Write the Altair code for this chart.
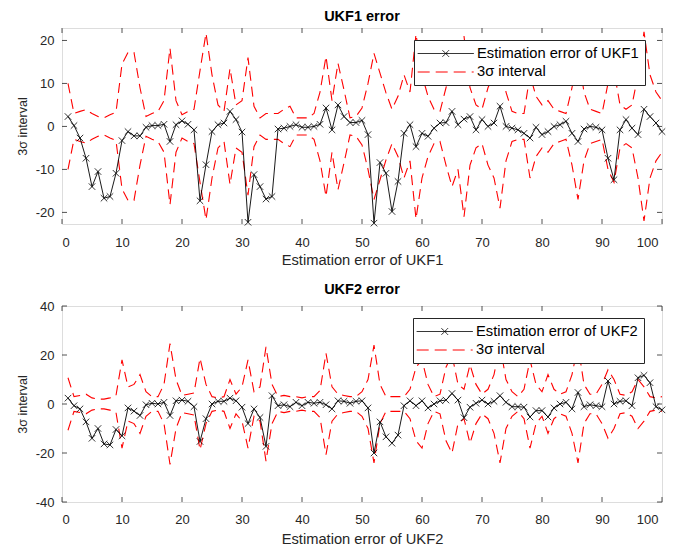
import altair as alt
import pandas as pd

t = list(range(1, 101))

err1 = [2.3, 0.2, -2.7, -7.4, -14, -10.5, -16.7, -16.3, -10.9, -3.3,
        -1.2, -2.2, -2.2, -0.2, 0.2, 0.2, 0.5, -3.5, 0.4, 1.3,
        0.5, -0.8, -17.3, -8.9, -1.2, 0.4, 0.8, 3.5, 1.6, -1.3,
        -22.3, -11.2, -14, -16.9, -16.3, -0.6, -0.4, 0, 0.4, -0.2,
        -0.2, 0, 0.5, 4.3, -0.8, 5, 2.3, 0.9, 0.9, 1.4,
        -1.9, -22.5, -8.4, -10.9, -19.8, -12.8, -1.6, 0.4, -4.7, -1.6,
        -2.3, -0.4, 0.8, 0.9, 3.5, 0.4, 1.7, 2.3, -0.8, 1.6,
        0, 0.8, 4.7, 0, -0.4, -0.8, -1.6, -2.7, -0.2, -1.9,
        -1.2, 0, 0.4, 1.2, -1.6, -3.5, -0.6, 0, -0.2, -0.8,
        -7.4, -12.4, -0.8, 1.6, -0.4, -1.9, 4.0, 2.3, 0.8, -1.2]

sig1 = [10, 3, 3.5, 3.9, 3, 2.3, 2, 2.7, 3.3, 14.5,
        17.2, 17.2, 9, 2.3, 3, 3.5, 6, 18.2, 6, 2.7,
        3.5, 4, 13, 21.7, 12, 5, 3.5, 13.5, 5, 6,
        16, 4.7, 2, 3, 3, 3, 4, 4.7, 2, 2,
        2, 3, 8, 16.3, 6, 14.7, 8.5, 2, 2.3, 4.3,
        10, 17, 12.4, 7.8, 4, 7, 12, 8, 21.5, 12,
        7, 4, 3.5, 9, 14, 10, 21, 9, 5, 4,
        9, 12, 19, 8, 3.5, 3, 3, 12, 7, 5,
        6, 4, 3.5, 3, 9, 17, 8, 4, 3.5, 3,
        10, 13, 5, 4, 5, 12, 22, 12, 8, 6]

err2 = [2.4, -0.7, -2, -7.3, -14, -10, -16.3, -16.7, -10.4, -13,
        -1.6, -2.9, -4.7, -0.3, 0.3, 0, 0.7, -4.7, 1.3, 1.6,
        1.1, -1.1, -15.3, -6, 0, 1.1, 1.1, 2.4, 1.3, -1.3,
        -8, -2, -5.5, -17.3, 3.4, -0.7, -0.3, -1.1, 0.7, -0.7,
        0.7, 0.3, 0.7, -0.3, -2, 1.3, 1.1, 0.3, 1.1, 1.3,
        -1.6, -20, -7.3, -13.4, -16, -12.7, -0.7, 1.3, -0.7, 1.3,
        -1.6, 0, 1.3, 1.6, 4.3, 1.6, -5.6, -1.3, 0.3, 1.6,
        0, 1.1, 3.4, 0.7, -1.1, -1.1, -1.3, -5.3, -2.7, -2.7,
        -5.3, -1.6, 0, 0.7, -2, 4.7, -1.1, -0.3, -0.7, -1.1,
        9.4, 0, 1.1, 1.3, -0.7, 10.7, 11.7, 8.7, -1.1, -2.4]

sig2 = [10.7, 3, 3.5, 4, 2.5, 2, 2, 2.5, 3.5, 18,
        7, 8, 12, 5, 3, 3, 8, 24.7, 10, 3.5,
        4, 4.5, 18.7, 8, 3, 2.5, 3, 10, 4, 7,
        18, 5, 7, 23.3, 8, 3, 3.5, 3, 3, 2.5,
        3, 3, 5.5, 20.7, 7, 4, 3.5, 3, 3, 5,
        10, 24, 8, 3, 3, 3, 3, 6, 15, 18,
        8, 3, 4, 15, 20, 8, 6, 16, 8, 4,
        6, 12, 24, 10, 5, 3, 6, 18, 8, 5,
        12, 6, 4, 5, 12, 24, 8, 4, 4, 8,
        14, 10, 4, 3.5, 5, 10, 7, 3, 2.5, 3]

x_ticks = [0, 10, 20, 30, 40, 50, 60, 70, 80, 90, 100]
y1_ticks = [-20, -10, 0, 10, 20]
y2_ticks = [-40, -20, 0, 20, 40]

FONT = "Liberation Sans"
AX = "#262626"
XPATH = "M-1,-1L1,1M-1,1L1,-1"
LEG_ERR = "M-1.4,0L6.6,0M2.15,-0.45L3.05,0.45M2.15,0.45L3.05,-0.45"
LEG_INT = "M-1.4,0L6.6,0"
W, H = 600, 196


def panel(name, err, sig, ydom, yticks, legx, legy, xlabpad, xtitlepad):
    df = pd.DataFrame({"t": t, "err": err, "sig": sig})
    xscale = alt.Scale(domain=[0, 100], nice=False, zero=False)
    yscale = alt.Scale(domain=ydom, nice=False, zero=False)
    xaxis = alt.Axis(values=x_ticks, title="Estimation error of " + name,
                     ticks=False, tickSize=0, domain=False, grid=False,
                     labelExpr="'' + datum.value",
                     labelOffset={"condition": {"test": "datum.value === 100", "value": -4}, "value": 0},
                     labelFont=FONT, labelFontSize=13, labelColor=AX, labelPadding=xlabpad,
                     titleFont=FONT, titleFontSize=14.7, titleFontWeight="normal",
                     titleColor=AX, titlePadding=xtitlepad)
    yaxis = alt.Axis(values=yticks, title="3σ interval",
                     ticks=False, tickSize=0, domain=False, grid=False,
                     labelExpr="'' + datum.value",
                     labelFont=FONT, labelFontSize=13, labelColor=AX, labelPadding=8,
                     titleFont=FONT, titleFontSize=12.5, titleFontWeight="normal",
                     titleColor=AX, titlePadding=6)

    def X(f):
        return alt.X(f, type="quantitative", scale=xscale, axis=xaxis)

    def Y(f):
        return alt.Y(f, type="quantitative", scale=yscale, axis=yaxis)

    base = alt.Chart(df)
    up = base.transform_calculate(v="datum.sig").mark_line(
        color="#ff0000", strokeDash=[10, 6], strokeWidth=1.1).encode(x=X("t"), y=Y("v"))
    lo = base.transform_calculate(v="-datum.sig").mark_line(
        color="#ff0000", strokeDash=[10, 6], strokeWidth=1.1).encode(x=X("t"), y=Y("v"))
    line = base.mark_line(color="black", strokeWidth=0.9).encode(x=X("t"), y=Y("err"))
    pts = base.mark_point(shape=XPATH, size=42, filled=False, color="black",
                          strokeWidth=0.8, opacity=1).encode(x=X("t"), y=Y("err"))

    names = ["Estimation error of " + name, "3σ interval"]
    leg = alt.Legend(orient="none", legendX=legx, legendY=legy, title=None,
                     fillColor="white", strokeColor=AX, padding=6,
                     labelFont=FONT, labelFontSize=14.7, labelColor="black",
                     labelOffset=42, symbolSize=196, symbolStrokeWidth=1,
                     rowPadding=2.5, labelLimit=400)
    legend_layer = base.transform_filter("false").mark_point(
        filled=False, strokeWidth=1, opacity=1).encode(
        shape=alt.Shape("series:N", scale=alt.Scale(domain=names, range=[LEG_ERR, LEG_INT]), legend=leg),
        color=alt.Color("series:N", scale=alt.Scale(domain=names, range=["black", "#ff0000"]), legend=leg),
        strokeDash=alt.StrokeDash("series:N", scale=alt.Scale(domain=names, range=[[1, 0], [12, 6]]), legend=leg),
    )

    xt = alt.Chart(pd.DataFrame({"v": x_ticks}))
    yt = alt.Chart(pd.DataFrame({"v": yticks}))
    tb = xt.mark_rule(color=AX, strokeWidth=0.8).encode(x=X("v"), y=alt.value(H), y2=alt.value(H - 5))
    tt = xt.mark_rule(color=AX, strokeWidth=0.8).encode(x=X("v"), y=alt.value(0), y2=alt.value(5))
    tl = yt.mark_rule(color=AX, strokeWidth=0.8).encode(y=Y("v"), x=alt.value(0), x2=alt.value(5))
    tr = yt.mark_rule(color=AX, strokeWidth=0.8).encode(y=Y("v"), x=alt.value(W), x2=alt.value(W - 5))

    return alt.layer(up, lo, line, pts, tb, tt, tl, tr, legend_layer).properties(
        width=W, height=H,
        title=alt.TitleParams(name + " error", font=FONT, fontSize=14.5, fontWeight="bold",
                              color="black", offset=3, anchor="middle"),
    )


p1 = panel("UKF1", err1, sig1, [-22.7, 22.9], y1_ticks, 352, 12, 12, 3)
p2 = panel("UKF2", err2, sig2, [-40, 40], y2_ticks, 351, 12, 11, 5)

chart = alt.vconcat(p1, p2, spacing=13).resolve_scale(
    x="independent", y="independent", color="independent",
    shape="independent", strokeDash="independent").resolve_legend(
    color="independent", shape="independent", strokeDash="independent"
).properties(padding={"left": 7, "top": 0, "right": 0, "bottom": 0}).configure_view(
    stroke=AX, strokeWidth=1).configure(background="white")

chart.save("out.html", embed_options={"renderer": "svg", "actions": False})
